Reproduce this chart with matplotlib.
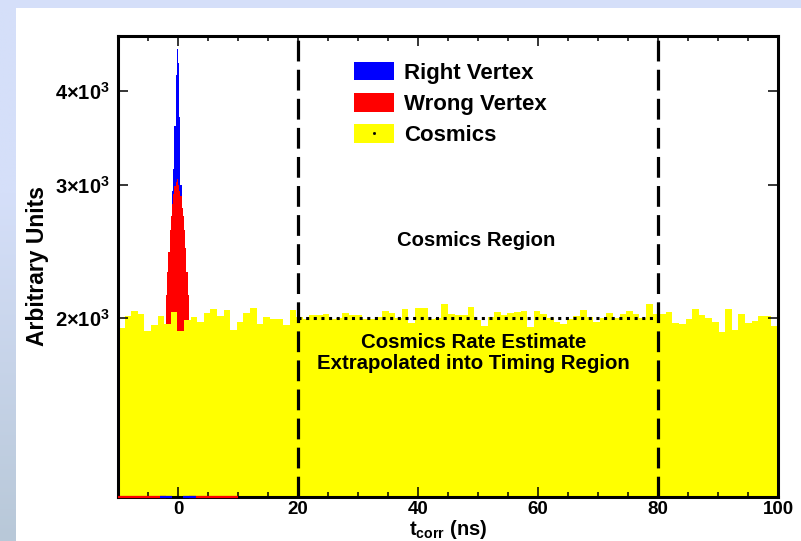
import numpy as np
import matplotlib
matplotlib.use("Agg")
import matplotlib.pyplot as plt
from matplotlib.patches import Patch, Rectangle
from matplotlib.lines import Line2D
from matplotlib.ticker import FixedLocator, FuncFormatter, MultipleLocator, NullLocator

plt.rcParams["font.family"] = "Liberation Sans"
plt.rcParams["font.weight"] = "bold"
plt.rcParams["axes.labelweight"] = "bold"
plt.rcParams["mathtext.fontset"] = "custom"
plt.rcParams["mathtext.rm"] = "Liberation Sans:bold"
plt.rcParams["mathtext.bf"] = "Liberation Sans:bold"
plt.rcParams["mathtext.it"] = "Liberation Sans:bold:italic"

# cosmics: 100 bins of 1.1 ns over [-10, 100]
cosmics_range = (-10.0, 100.0)
cosmics = [
    1943, 2012, 2046, 2024, 1922, 1957, 2013, 1966, 2038, 1923,
    1992, 2006, 1977, 2035, 2059, 2013, 2053, 1932, 1976, 2035,
    2067, 1965, 2006, 1998, 1996, 1957, 2053, 2006, 1998, 2018,
    2023, 2029, 1998, 2000, 2032, 2018, 2018, 1994, 1994, 2006,
    2047, 2031, 2004, 2059, 1971, 2061, 2067, 1998, 2000, 2089,
    2029, 2018, 2018, 2069, 1988, 1951, 2006, 2038, 2018, 2032,
    2038, 2045, 1947, 2045, 2024, 2000, 1977, 1968, 1994, 2012,
    2053, 2006, 1977, 2000, 2032, 2004, 2024, 2045, 2024, 2000,
    2089, 2029, 2029, 2038, 1971, 1968, 1998, 2059, 2018, 2004,
    1977, 1918, 2059, 1932, 2024, 1971, 1984, 2012, 2012, 1952,
]

# signal histograms use 0.2 ns bins; only the peak bins are non-empty
sig_width = 0.2
wrong_range = (-10.0, 10.0)
wrong_peak_start = -2.0
wrong_peak = [2150, 2300, 2450, 2620, 2730, 2830, 2920, 2990, 3030, 3060,
              3000, 2950, 2900, 2800, 2730, 2620, 2480, 2300, 2150]
right_range = (-3.0, 3.0)
right_peak_start = -1.0
right_peak = [2950, 3150, 3600, 4200, 4550, 4350, 3700, 3000, 2600]

ymin, ymax = 1160, 4730
region_lo, region_hi = 20, 80
rate_estimate = 2000

legend_labels = ["Right Vertex", "Wrong Vertex", "Cosmics"]
c_right, c_wrong, c_cosm = "#0000ff", "#ff0000", "#ffff00"


def make_hist(rng, start, peak):
    edges = np.round(np.arange(rng[0], rng[1] + sig_width / 2, sig_width), 3)
    vals = np.zeros(len(edges) - 1)
    i0 = int(round((start - rng[0]) / sig_width))
    vals[i0:i0 + len(peak)] = peak
    return edges, vals


fig = plt.figure(figsize=(8.01, 5.41), dpi=100, facecolor="#d5dff9")
fig.patches.append(Rectangle((16 / 801, 0), 1 - 16 / 801, 1 - 8 / 541,
                             transform=fig.transFigure, facecolor="white",
                             edgecolor="none", zorder=-5))
# left strip fades to grey-blue at the bottom
gax = fig.add_axes([0, 0, 16 / 801, 1 - 8 / 541])
gax.axis("off")
top_c = np.array([213, 223, 249]) / 255
bot_c = np.array([184, 200, 216]) / 255
t = np.clip((np.linspace(0, 1, 200) - 0.35) / 0.65, 0, 1)[:, None]
grad = (1 - t) * top_c + t * bot_c
gax.imshow(grad[:, None, :], aspect="auto", extent=(0, 1, 0, 1))

ax = fig.add_axes([118 / 801, 1 - 497 / 541, 660 / 801, 461 / 541])
ax.set_yscale("log")

edges_r, vals_r = make_hist(right_range, right_peak_start, right_peak)
edges_w, vals_w = make_hist(wrong_range, wrong_peak_start, wrong_peak)
edges_c = np.linspace(cosmics_range[0], cosmics_range[1], len(cosmics) + 1)

ax.stairs(np.maximum(vals_r, ymin), edges_r, baseline=ymin, fill=True,
          color=c_right, lw=0, zorder=1)
ax.stairs(np.maximum(vals_w, ymin), edges_w, baseline=ymin, fill=True,
          color=c_wrong, lw=0, zorder=1.1)
ax.stairs(cosmics, edges_c, baseline=ymin, fill=True, color=c_cosm,
          lw=0, zorder=1.2)

# empty bins show up as an outline along the floor
for edges, vals, col in [(edges_w, vals_w, c_wrong), (edges_r, vals_r, c_right)]:
    empty = vals == 0
    ax.hlines(np.full(empty.sum(), ymin), edges[:-1][empty], edges[1:][empty],
              colors=col, lw=1.6, zorder=3, clip_on=False)

for xv in (region_lo, region_hi):
    ax.plot([xv, xv], [ymin, ymax], color="black", lw=2.3,
            dashes=(6.5, 2.6), zorder=4)
ax.plot([region_lo, region_hi], [rate_estimate, rate_estimate], color="black",
        lw=2.2, dashes=(1.0, 1.5), zorder=4)

ax.set_xlim(*cosmics_range)
ax.set_ylim(ymin, ymax)

ax.xaxis.set_major_locator(MultipleLocator(20))
ax.xaxis.set_minor_locator(MultipleLocator(5))
ax.yaxis.set_major_locator(FixedLocator([2000, 3000, 4000]))
ax.yaxis.set_minor_locator(NullLocator())
ax.yaxis.set_major_formatter(FuncFormatter(
    lambda v, p: r"$%d{\times}10^{3}$" % round(v / 1000)))
ax.xaxis.set_major_formatter(FuncFormatter(lambda v, p: "%d" % v))

ax.tick_params(which="both", direction="in", top=True, right=True,
               width=1.1, pad=3)
ax.tick_params(axis="x", labelsize=13.5)
ax.tick_params(axis="y", labelsize=14.5, pad=6)
ax.tick_params(which="major", length=7.2)
ax.tick_params(which="minor", length=3.6)
for sp in ax.spines.values():
    sp.set_linewidth(2.2)

ax.set_xlabel(r"$\mathrm{t_{corr}}$ (ns)", fontsize=14.5, labelpad=0)
ax.set_ylabel("Arbitrary Units", fontsize=16.5, labelpad=4)

ax.text(49.7, 2537, "Cosmics Region", ha="center", va="center", fontsize=14.6)
ax.text(49.3, 1858, "Cosmics Rate Estimate", ha="center", va="center",
        fontsize=14.7)
ax.text(49.3, 1744, "Extrapolated into Timing Region", ha="center",
        va="center", fontsize=14.7)

handles = [Patch(facecolor=c_right), Patch(facecolor=c_wrong),
           (Patch(facecolor=c_cosm),
            Line2D([], [], marker="s", ms=1, color="black", ls="none"))]
ax.legend(handles, legend_labels, loc="upper left", frameon=False,
          bbox_to_anchor=(354 / 801, 1 - 62 / 541),
          bbox_transform=fig.transFigure, fontsize=16, borderpad=0,
          borderaxespad=0, handlelength=1.8, handleheight=0.9,
          handletextpad=0.45, labelspacing=0.42)

fig.savefig("out.png", dpi=100, facecolor=fig.get_facecolor())
